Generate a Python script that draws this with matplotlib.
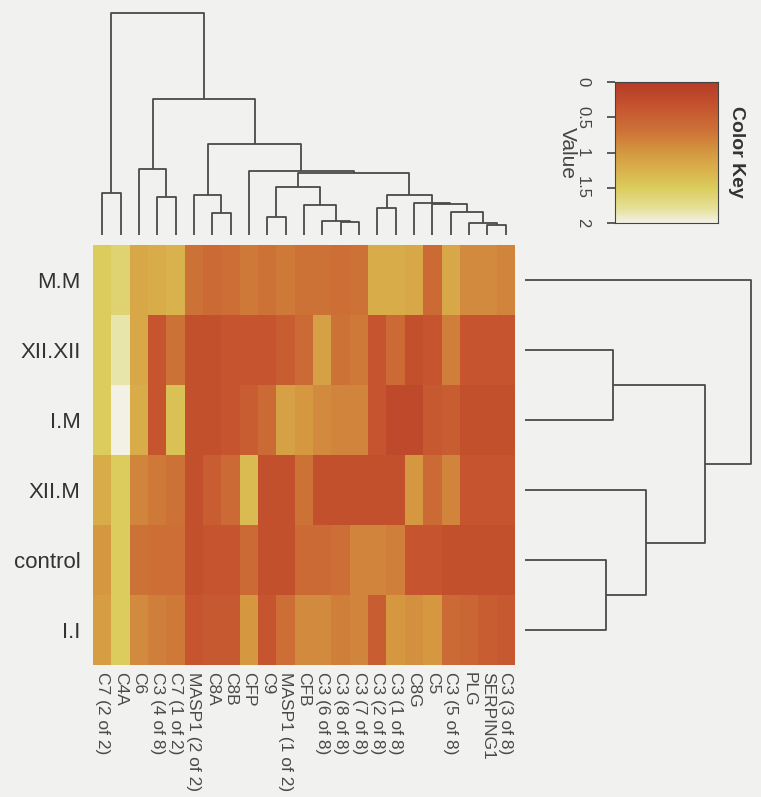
import matplotlib
matplotlib.use("Agg")
import matplotlib.pyplot as plt
import numpy as np
from matplotlib.colors import LinearSegmentedColormap

plt.rcParams["font.family"] = ["Liberation Sans", "DejaVu Sans"]

# rows and columns in display order
row_labels = ["M.M", "XII.XII", "I.M", "XII.M", "control", "I.I"]
col_labels = ["C7 (2 of 2)", "C4A", "C6", "C3 (4 of 8)", "C7 (1 of 2)",
              "MASP1 (2 of 2)", "C8A", "C8B", "CFP", "C9", "MASP1 (1 of 2)",
              "CFB", "C3 (6 of 8)", "C3 (8 of 8)", "C3 (7 of 8)", "C3 (2 of 8)",
              "C3 (1 of 8)", "C8G", "C5", "C3 (5 of 8)", "PLG", "SERPING1",
              "C3 (3 of 8)"]

mm     = [1.5, 1.6, 1.15, 1.2, 1.25, 0.7, 0.6, 0.65, 0.75, 0.7, 0.75, 0.7,
          0.7, 0.65, 0.7, 1.2, 1.2, 1.15, 0.6, 1.15, 0.9, 0.9, 0.85]
xiixii = [1.5, 1.85, 1.15, 0.35, 0.7, 0.3, 0.3, 0.35, 0.35, 0.35, 0.45, 0.6,
          1.1, 0.7, 0.75, 0.35, 0.6, 0.3, 0.35, 0.8, 0.35, 0.35, 0.35]
im     = [1.5, 2.0, 1.2, 0.35, 1.4, 0.3, 0.3, 0.35, 0.45, 0.6, 1.1, 1.0,
          0.9, 0.85, 0.85, 0.35, 0.2, 0.2, 0.4, 0.45, 0.3, 0.3, 0.3]
xiim   = [1.2, 1.5, 0.85, 0.75, 0.7, 0.3, 0.45, 0.6, 1.35, 0.3, 0.3, 0.7,
          0.3, 0.3, 0.3, 0.3, 0.3, 1.0, 0.6, 0.85, 0.35, 0.35, 0.35]
control = [1.0, 1.5, 0.7, 0.65, 0.65, 0.3, 0.35, 0.35, 0.6, 0.3, 0.3, 0.6,
           0.6, 0.65, 0.85, 0.85, 0.8, 0.35, 0.35, 0.3, 0.3, 0.3, 0.3]
ii     = [1.05, 1.5, 0.9, 0.8, 0.75, 0.35, 0.4, 0.4, 1.0, 0.35, 0.65, 0.9,
          0.9, 0.8, 0.85, 0.45, 1.0, 0.95, 1.0, 0.6, 0.55, 0.45, 0.4]

# linkage: (child a, child b, height); ids >= n are earlier merges
col_link = [(0, 1, 42.3), (3, 4, 38.3), (2, 24, 66), (6, 7, 22.3), (5, 26, 40),
            (9, 10, 17.7), (13, 14, 13), (12, 29, 14), (11, 30, 30), (28, 31, 48.3),
            (21, 22, 10), (20, 33, 11.7), (19, 34, 23.3), (18, 35, 31), (17, 36, 31.7),
            (15, 16, 26.7), (38, 37, 40), (32, 39, 62.3), (8, 40, 64.3), (27, 41, 91),
            (25, 42, 136), (23, 43, 221.7)]
row_link = [(1, 2, 88), (4, 5, 81), (3, 7, 121), (6, 8, 180), (0, 9, 226)]


def draw_dendro(ax, link, n, horizontal=False, color="#4a4a4a"):
    pos = {i: float(i) for i in range(n)}
    hgt = {i: 0.0 for i in range(n)}
    for k, (a, b, h) in enumerate(link):
        xa, xb = pos[a], pos[b]
        xs = [xa, xa, xb, xb]
        ys = [hgt[a], h, h, hgt[b]]
        if horizontal:
            ax.plot(ys, xs, color=color, lw=1.3, solid_capstyle="butt")
        else:
            ax.plot(xs, ys, color=color, lw=1.3, solid_capstyle="butt")
        pos[n + k] = (xa + xb) / 2
        hgt[n + k] = h


W, H = 761, 797
fig = plt.figure(figsize=(W / 100, H / 100), dpi=100, facecolor="#f1f1ef")


def px_axes(x0, y0, x1, y1):
    return fig.add_axes([x0 / W, 1 - y1 / H, (x1 - x0) / W, (y1 - y0) / H])


cmap = LinearSegmentedColormap.from_list("key", [
    (0.0, "#b63c27"), (0.15, "#c4512e"), (0.35, "#ce7338"), (0.5, "#d59841"),
    (0.6, "#d9ac4a"), (0.75, "#dbcc5c"), (0.9, "#e5e198"), (1.0, "#f3f1e6")])

data = np.array([mm, xiixii, im, xiim, control, ii])

ax = px_axes(93, 245, 515, 665)
ax.imshow(data, cmap=cmap, vmin=0, vmax=2, aspect="auto", interpolation="nearest")
ax.set_yticks(range(len(row_labels)))
ax.set_yticklabels(row_labels, fontsize=16, color="#333333")
ax.set_xticks(range(len(col_labels)))
ax.set_xticklabels(col_labels, rotation=-90, fontsize=12.5, color="#4a4a4a",
                   ha="center", va="top")
ax.tick_params(length=0, pad=5)
ax.tick_params(axis="y", pad=9)
for s in ax.spines.values():
    s.set_visible(False)

# column dendrogram
axc = px_axes(93, 10, 515, 235)
draw_dendro(axc, col_link, len(col_labels))
axc.set_xlim(-0.5, len(col_labels) - 0.5)
axc.set_ylim(0, 225)
axc.axis("off")

# row dendrogram
axr = px_axes(525, 245, 755, 665)
draw_dendro(axr, row_link, len(row_labels), horizontal=True)
axr.set_xlim(0, 230)
axr.set_ylim(len(row_labels) - 0.5, -0.5)
axr.axis("off")

# color key
axk = px_axes(615, 82, 718, 223)
grad = np.linspace(0, 2, 200).reshape(-1, 1)
axk.imshow(grad, cmap=cmap, vmin=0, vmax=2, aspect="auto",
           extent=[0, 1, 2, 0])
axk.set_xticks([])
axk.set_yticks([0, 0.5, 1, 1.5, 2])
axk.set_yticklabels(["0", "0.5", "1", "1.5", "2"], rotation=-90, va="center",
                    fontsize=12, color="#444444")
axk.tick_params(axis="y", length=6, width=1.2, pad=12, color="#444444")
for s in axk.spines.values():
    s.set_color("#444444")
fig.text(567 / W, 1 - 153 / H, "Value", rotation=-90, fontsize=15,
         ha="center", va="center", color="#444444")
fig.text(737 / W, 1 - 152 / H, "Color Key", rotation=-90, fontsize=14,
         fontweight="bold", ha="center", va="center", color="#333333")

fig.savefig("out.png", dpi=100, facecolor=fig.get_facecolor())
